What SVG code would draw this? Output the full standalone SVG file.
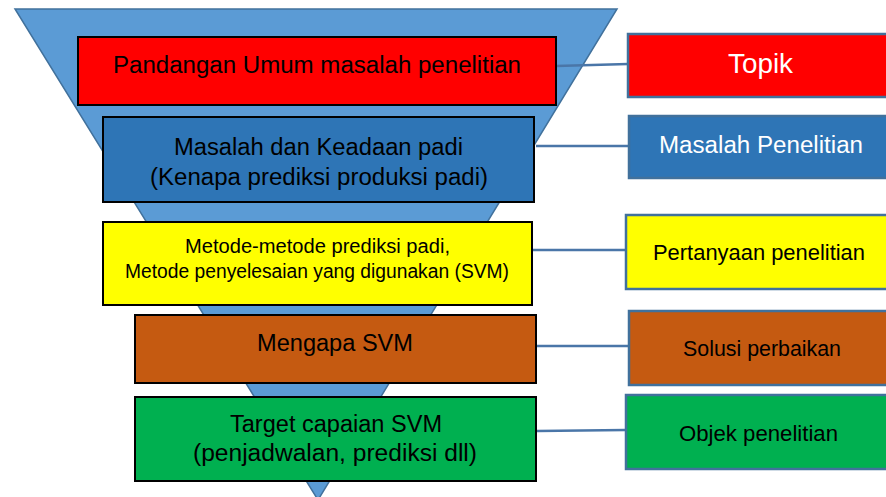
<svg xmlns="http://www.w3.org/2000/svg" width="886" height="497" viewBox="0 0 886 497">
  <style>
    text { font-family: "Liberation Sans", Arial, sans-serif; text-anchor: middle; }
    .stage { stroke: #000000; stroke-width: 2; }
    .label { stroke: #41719C; stroke-width: 2.5; }
    .link { stroke: #4A76A8; stroke-width: 2.5; fill: none; }
    .dark { fill: #000000; }
    .light { fill: #FFFFFF; }
  </style>

  <!-- funnel background -->
  <polygon points="15,9 617,9 318,500" fill="#5B9BD5" stroke="#41719C" stroke-width="1.5"/>

  <!-- connectors between funnel stages and their labels -->
  <g id="connectors">
    <line class="link" x1="556" y1="66" x2="628" y2="64"/>
    <line class="link" x1="536" y1="146" x2="629" y2="146"/>
    <line class="link" x1="533" y1="250" x2="626" y2="250"/>
    <line class="link" x1="537" y1="346" x2="629" y2="346"/>
    <line class="link" x1="537" y1="431" x2="626" y2="430"/>
  </g>

  <!-- funnel stages -->
  <g id="stage-overview">
    <rect class="stage" x="78" y="37" width="478" height="68" fill="#FF0000"/>
    <text class="dark" x="317" y="73" font-size="23" textLength="408" lengthAdjust="spacingAndGlyphs">Pandangan Umum masalah penelitian</text>
  </g>
  <g id="stage-problem">
    <rect class="stage" x="103" y="117" width="431" height="85" fill="#2E75B6"/>
    <text class="dark" x="318.5" y="155" font-size="23" textLength="289" lengthAdjust="spacingAndGlyphs">Masalah dan Keadaan padi</text>
    <text class="dark" x="319" y="185" font-size="23" textLength="338" lengthAdjust="spacingAndGlyphs">(Kenapa prediksi produksi padi)</text>
  </g>
  <g id="stage-methods">
    <rect class="stage" x="103" y="222" width="429" height="83" fill="#FFFF00"/>
    <text class="dark" x="317.5" y="253" font-size="20" textLength="265" lengthAdjust="spacingAndGlyphs">Metode-metode prediksi padi,</text>
    <text class="dark" x="317" y="278" font-size="20" textLength="384" lengthAdjust="spacingAndGlyphs">Metode penyelesaian yang digunakan (SVM)</text>
  </g>
  <g id="stage-why">
    <rect class="stage" x="135" y="315" width="401" height="68" fill="#C55A11"/>
    <text class="dark" x="335" y="351" font-size="23" textLength="156" lengthAdjust="spacingAndGlyphs">Mengapa SVM</text>
  </g>
  <g id="stage-target">
    <rect class="stage" x="135" y="397" width="401" height="84" fill="#00B050"/>
    <text class="dark" x="336" y="432" font-size="23" textLength="212" lengthAdjust="spacingAndGlyphs">Target capaian SVM</text>
    <text class="dark" x="335" y="461" font-size="23" textLength="284" lengthAdjust="spacingAndGlyphs">(penjadwalan, prediksi dll)</text>
  </g>

  <!-- labels on the right -->
  <g id="label-topik">
    <rect class="label" x="628" y="34" width="262" height="63" fill="#FF0000"/>
    <text class="light" x="760.5" y="73" font-size="27" textLength="65" lengthAdjust="spacingAndGlyphs">Topik</text>
  </g>
  <g id="label-masalah">
    <rect class="label" x="629" y="116" width="261" height="62" fill="#2E75B6"/>
    <text class="light" x="761" y="153" font-size="23" textLength="204" lengthAdjust="spacingAndGlyphs">Masalah Penelitian</text>
  </g>
  <g id="label-pertanyaan">
    <rect class="label" x="626" y="215" width="264" height="74" fill="#FFFF00"/>
    <text class="dark" x="759" y="260" font-size="21.5" textLength="212" lengthAdjust="spacingAndGlyphs">Pertanyaan penelitian</text>
  </g>
  <g id="label-solusi">
    <rect class="label" x="629" y="311" width="261" height="74" fill="#C55A11"/>
    <text class="dark" x="762" y="356" font-size="21.5" textLength="158" lengthAdjust="spacingAndGlyphs">Solusi perbaikan</text>
  </g>
  <g id="label-objek">
    <rect class="label" x="626" y="395" width="264" height="74" fill="#00B050"/>
    <text class="dark" x="758.5" y="441" font-size="21.5" textLength="159" lengthAdjust="spacingAndGlyphs">Objek penelitian</text>
  </g>
</svg>
